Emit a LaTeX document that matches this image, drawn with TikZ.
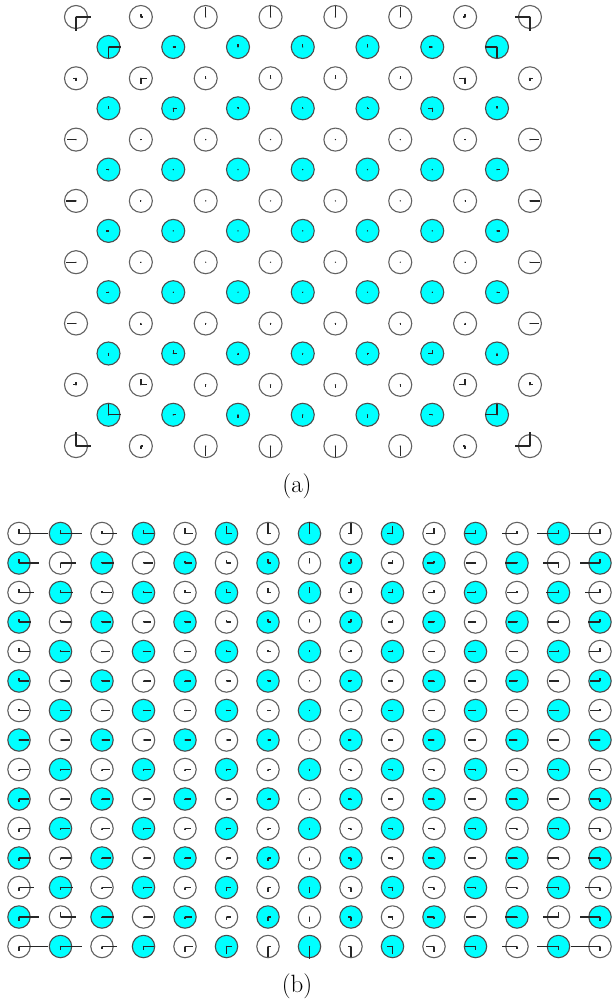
\documentclass[tikz,border=0pt]{standalone}
\definecolor{aqua}{RGB}{0,255,255}
\begin{document}
\begin{tikzpicture}[x=1pt,y=-1pt,
  wa/.style={circle,draw=black!62,line width=1.1pt,fill=white,inner sep=0pt,minimum size=23pt},
  ca/.style={circle,draw=black!70,line width=1.1pt,fill=aqua,inner sep=0pt,minimum size=23pt},
  wb/.style={circle,draw=black!62,line width=1.1pt,fill=white,inner sep=0pt,minimum size=22.4pt},
  cb/.style={circle,draw=black!70,line width=1.1pt,fill=aqua,inner sep=0pt,minimum size=22.4pt},
  hand/.style={line width=1.3pt,draw=black!85},
  lbl/.style={font=\fontsize{25}{30}\selectfont}]
\useasboundingbox (0,0) rectangle (613,1006);
\def\UW{{0,0,0,0, 0,0.5,1,0, 1,1,-6,-2, 10,9,3,-15}}
\def\VW{{0,0.5,3,11, 0,0.5,2,10, 0,1,-6,3, 0,0,-3,-14}}
\def\UC{{0,0,0,0, 0,0,0.5,0, 0,0.5,-4,-3, 3,3,0,-12}}
\def\VC{{0,0.3,1,3, 0,0,1,3, 0,0.5,-4,0, 0,0,2,-11}}
\def\RB{{1,0.4,0.45,0.25,0.15,0.08,0.04,0}}
% ---------- (a) circles
\foreach \a in {0,...,7}{\foreach \b in {0,...,7}{
  \node[wa] (aw-\a-\b) at ({76+64.85*\a},{17+61.3*\b}) {};
}}
\foreach \a in {0,...,6}{\foreach \b in {0,...,6}{
  \node[ca] (ac-\a-\b) at ({108.5+64.75*\a},{47+61.3*\b}) {};
}}
% ---------- (a) glyphs
\foreach \a in {0,...,7}{\foreach \b in {0,...,7}{
  \pgfmathtruncatemacro\X{2*\a-7}
  \pgfmathtruncatemacro\Y{2*\b-7}
  \pgfmathtruncatemacro\k{(abs(\X)-1)*2+(abs(\Y)-1)/2}
  \pgfmathsetmacro\du{sign(\X)*\UW[\k]}
  \pgfmathsetmacro\dv{sign(\Y)*\VW[\k]}
  \draw[hand] (aw-\a-\b.center) -- ++(\du,0) (aw-\a-\b.center) -- ++(0,\dv);
  \fill[black!85] (aw-\a-\b.center) circle (0.7);
}}
\foreach \a in {0,...,6}{\foreach \b in {0,...,6}{
  \pgfmathtruncatemacro\X{2*\a-6}
  \pgfmathtruncatemacro\Y{2*\b-6}
  \pgfmathtruncatemacro\k{abs(\X)*2+abs(\Y)/2}
  \pgfmathsetmacro\du{sign(\X)*\UC[\k]}
  \pgfmathsetmacro\dv{sign(\Y)*\VC[\k]}
  \draw[hand] (ac-\a-\b.center) -- ++(\du,0) (ac-\a-\b.center) -- ++(0,\dv);
  \fill[black!85] (ac-\a-\b.center) circle (0.7);
}}
\node[lbl] (la) at (297,486) {(a)};
% ---------- (b) circles
\foreach \i in {0,...,14}{\foreach \j in {0,...,14}{
  \pgfmathtruncatemacro\odd{mod(\i+\j,2)}
  \ifnum\odd=1
    \node[cb] (b-\i-\j) at ({19+41.5*\i},{533.5+29.5*\j}) {};
  \else
    \node[wb] (b-\i-\j) at ({19+41.5*\i},{533.5+29.5*\j}) {};
  \fi
}}
% ---------- (b) glyphs
\foreach \i in {0,...,14}{\foreach \j in {0,...,14}{
  \pgfmathsetmacro\cx{(\i-7)/7}
  \pgfmathsetmacro\cy{(\j-7)/7}
  \pgfmathsetmacro\ax{max(abs(\cx),0.001)}
  \pgfmathsetmacro\ay{abs(\cy)}
  \pgfmathtruncatemacro\d{7-abs(\j-7)}
  \pgfmathsetmacro\du{-sign(\cx)*(10*\ax^0.6+19*\ax^3*\ay^4)}
  \pgfmathsetmacro\vo{12*(0.15+0.85*exp(-(\ax/0.4)^2))*\RB[\d]+3*\ax^6*min(1,3*\ay)}
  \pgfmathsetmacro\vo{(abs(\i-7)==6 && abs(\j-7)==6) ? -5 : \vo}
  \pgfmathsetmacro\dv{sign(\cy)*\vo}
  \draw[hand] (b-\i-\j.center) -- ++(\du,0) (b-\i-\j.center) -- ++(0,\dv);
  \fill[black!85] (b-\i-\j.center) circle (0.7);
}}
\node[lbl] (lb) at (297,986) {(b)};
\end{tikzpicture}
\end{document}
